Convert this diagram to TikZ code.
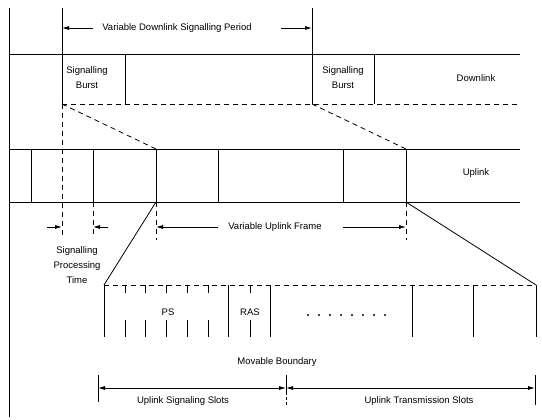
\documentclass[tikz,border=0pt]{standalone}
\usepackage{fontspec}
\setmainfont{Liberation Sans}
\usetikzlibrary{arrows.meta}
\begin{document}
\begin{tikzpicture}[x=1pt,y=-1pt,
  ln/.style={line width=0.8pt},
  dsh/.style={line width=0.8pt,dash pattern=on 5pt off 4pt},
  lbl/.style={font=\fontsize{9.5}{15}\selectfont,inner sep=0pt,align=center},
  arr/.style={line width=0.8pt,-{Latex[length=7pt,width=4pt]}},
  arrb/.style={line width=0.8pt,{Latex[length=7pt,width=4pt]}-{Latex[length=7pt,width=4pt]}},
]
\useasboundingbox (0,0) rectangle (542,420);
% outer left line
\coordinate (tl) at (9,8); \coordinate (bl) at (9,417);
\draw[ln] (tl) -- (bl);
% period markers
\coordinate (a0) at (62,8); \coordinate (a1) at (62,104); \coordinate (a2) at (62,238);
\coordinate (b0) at (312,8); \coordinate (b1) at (312,104);
\draw[ln] (a0) -- (a1);
\draw[dsh] (a1) -- (a2);
\draw[ln] (b0) -- (b1);
% variable downlink signalling period
\node[lbl] (vdsp) at (177,28) {Variable Downlink Signalling Period};
\coordinate (vl) at (93,28); \coordinate (vle) at (62,28);
\coordinate (vr) at (281,28); \coordinate (vre) at (312,28);
\draw[arr] (vl) -- (vle);
\draw[arr] (vr) -- (vre);
% downlink band
\coordinate (dl) at (9,54); \coordinate (dr) at (520,54);
\draw[ln] (dl) -- (dr);
\coordinate (c0) at (125,54); \coordinate (c1) at (125,104);
\coordinate (e0) at (374,54); \coordinate (e1) at (374,104);
\draw[ln] (c0) -- (c1);
\draw[ln] (e0) -- (e1);
\coordinate (dashR) at (520,104);
\draw[dsh] (a1) -- (dashR);
\node[lbl] (sb1) at (87,78) {Signalling\\Burst};
\node[lbl] (sb2) at (343,78) {Signalling\\Burst};
\node[lbl] (down) at (476,78) {Downlink};
% uplink band
\coordinate (ul) at (9,149); \coordinate (ur) at (520,149);
\coordinate (ll) at (9,202); \coordinate (lr) at (520,202);
\draw[ln] (ul) -- (ur);
\draw[ln] (ll) -- (lr);
\foreach \n/\x in {1/31,2/93,3/156,4/218,5/343,6/406}{
  \coordinate (ut\n) at (\x,149); \coordinate (ub\n) at (\x,202);
  \draw[ln] (ut\n) -- (ub\n);
}
\node[lbl] (up) at (476,173) {Uplink};
% projection of downlink to uplink
\draw[dsh] (a1) -- (ut3);
\draw[dsh] (b1) -- (ut6);
% dashed extensions
\coordinate (p2) at (93,238); \coordinate (p3) at (156,240); \coordinate (p6) at (406,240);
\draw[dsh] (ub2) -- (p2);
\draw[dsh] (ub3) -- (p3);
\draw[dsh] (ub6) -- (p6);
% signalling processing time
\coordinate (s1) at (47,227); \coordinate (s1e) at (62,227);
\coordinate (s2) at (108,227); \coordinate (s2e) at (93,227);
\draw[arr] (s1) -- (s1e);
\draw[arr] (s2) -- (s2e);
\node[lbl] (spt) at (77,265) {Signalling\\Processing\\Time};
% variable uplink frame
\node[lbl] (vuf) at (275,227) {Variable Uplink Frame};
\coordinate (f1) at (218,227); \coordinate (f1e) at (156,227);
\coordinate (f2) at (343,227); \coordinate (f2e) at (406,227);
\draw[arr] (f1) -- (f1e);
\draw[arr] (f2) -- (f2e);
% zoomed frame
\coordinate (zl) at (104,285); \coordinate (zr) at (536,285);
\draw[ln] (ub3) -- (zl);
\draw[ln] (ub6) -- (zr);
\draw[dsh] (zl) -- (zr);
\foreach \n/\x in {1/104,2/228,3/270,4/412,5/473,6/536}{
  \coordinate (zt\n) at (\x,285); \coordinate (zb\n) at (\x,337);
  \draw[ln] (zt\n) -- (zb\n);
}
\foreach \n/\x in {1/125,2/145,3/166,4/187,5/208,6/250}{
  \coordinate (kt\n) at (\x,285); \coordinate (km\n) at (\x,293);
  \coordinate (kn\n) at (\x,320); \coordinate (kb\n) at (\x,337);
  \draw[ln] (kt\n) -- (km\n);
  \draw[ln] (kn\n) -- (kb\n);
}
\node[lbl] (ps) at (168,312) {PS};
\node[lbl] (ras) at (250,312) {RAS};
\foreach \i in {0,...,7}{
  \fill (308+11*\i,315) circle (1.1pt);
}
% movable boundary
\node[lbl] (mb) at (277,362) {Movable Boundary};
\coordinate (m1) at (98,375); \coordinate (m1b) at (98,402);
\coordinate (m2) at (286,375); \coordinate (m2m) at (286,392); \coordinate (m2b) at (286,407);
\coordinate (m3) at (535,375); \coordinate (m3b) at (535,405);
\draw[ln] (m1) -- (m1b);
\draw[ln] (m2) -- (m2m);
\draw[ln,dash pattern=on 3pt off 2pt] (m2m) -- (m2b);
\draw[ln] (m3) -- (m3b);
\coordinate (h1) at (98,388); \coordinate (h2) at (286,388); \coordinate (h3) at (535,388);
\draw[arrb] (h1) -- (h2);
\draw[arrb] (h2) -- (h3);
\node[lbl] (uss) at (183,401) {Uplink Signaling Slots};
\node[lbl] (uts) at (419,401) {Uplink Transmission Slots};
\end{tikzpicture}
\end{document}
